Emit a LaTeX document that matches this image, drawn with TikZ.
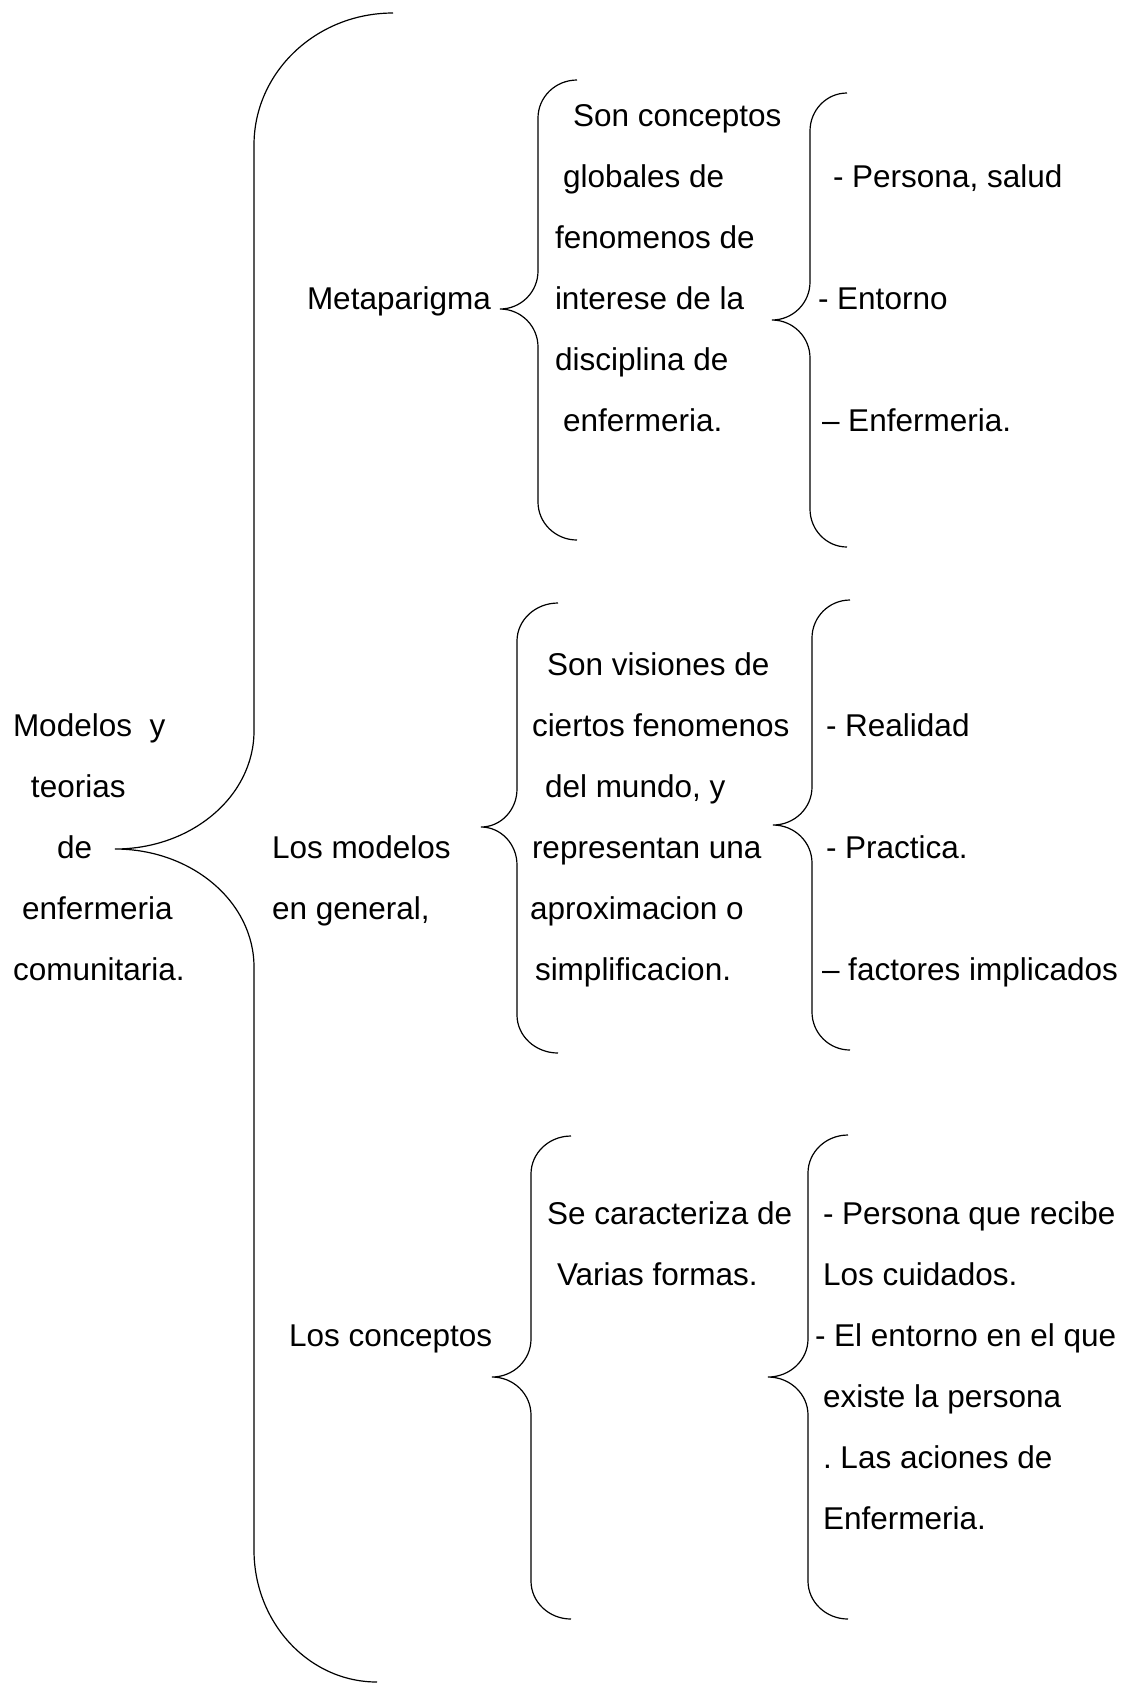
\documentclass[tikz,border=0pt]{standalone}
\usepackage{fontspec}
\setmainfont{Liberation Sans}
\frenchspacing
\newcommand\mybrace[9]{%
  \draw[bracestyle] (#4,#5) .. controls ({#4-0.552*(#4-#1)},#5) and (#1,{#5+#8*(1-0.552)}) .. (#1,{#5+#8})
  -- (#1,{#3-#9}) .. controls (#1,{#3-#9+0.552*#9}) and ({#2+0.552*(#1-#2)},#3) .. (#2,#3)
  .. controls ({#2+0.552*(#1-#2)},#3) and (#1,{#3+#9-0.552*#9}) .. (#1,{#3+#9})
  -- (#1,{#7-#8}) .. controls (#1,{#7-#8+0.552*#8}) and ({#6-0.552*(#6-#1)},#7) .. (#6,#7);}
\begin{document}
\begin{tikzpicture}[x=0.5pt,y=-0.5pt,
  txt/.style={anchor=base west,inner sep=0pt,outer sep=0pt,font=\fontsize{15.75pt}{18pt}\selectfont\frenchspacing},
  bracestyle/.style={line width=0.6pt,black}]
\useasboundingbox (0,0) rectangle (1125,1683);
% braces
\mybrace{254}{115}{849}{393}{13}{377}{1682}{132}{118}
\mybrace{538}{500}{309}{577}{80}{577}{540}{38}{38}
\mybrace{810}{772}{320}{847}{93}{847}{547}{38}{38}
\mybrace{517}{481}{827}{558}{603}{558}{1053}{38}{38}
\mybrace{812}{773}{825}{850}{600}{850}{1050}{38}{38}
\mybrace{531}{492}{1377}{571}{1136}{571}{1619}{38}{38}
\mybrace{808}{768}{1377}{848}{1135}{848}{1619}{38}{38}
% left column
\node[txt] (l1) at (13,736) {Modelos\ \ y};
\node[txt] (l2) at (31,797) {teorias};
\node[txt] (l3) at (57,858) {de};
\node[txt] (l4) at (22,919) {enfermeria};
\node[txt] (l5) at (13,980) {comunitaria.};
% second column
\node[txt] (m1) at (307,309) {Metaparigma};
\node[txt] (m2a) at (272,858) {Los modelos};
\node[txt] (m2b) at (272,919) {en general,};
\node[txt] (m3) at (289,1346) {Los conceptos};
% block 1 middle
\node[txt] (a1) at (573,126) {Son conceptos};
\node[txt] (a2) at (563,187) {globales de};
\node[txt] (a3) at (555,248) {fenomenos de};
\node[txt] (a4) at (555,309) {interese de la};
\node[txt] (a5) at (555,370) {disciplina de};
\node[txt] (a6) at (563,431) {enfermeria.};
% block 1 right
\node[txt] (r1) at (833,187) {- Persona, salud};
\node[txt] (r2) at (818,309) {- Entorno};
\node[txt] (r3) at (822,431) {– Enfermeria.};
% block 2 middle
\node[txt] (b1) at (547,675) {Son visiones de};
\node[txt] (b2) at (532,736) {ciertos fenomenos};
\node[txt] (b3) at (545,797) {del mundo, y};
\node[txt] (b4) at (532,858) {representan una};
\node[txt] (b5) at (530,919) {aproximacion o};
\node[txt] (b6) at (535,980) {simplificacion.};
% block 2 right
\node[txt] (s1) at (826,736) {- Realidad};
\node[txt] (s2) at (826,858) {- Practica.};
\node[txt] (s3) at (822,980) {– factores implicados};
% block 3 middle
\node[txt] (c1) at (547,1224) {Se caracteriza de};
\node[txt] (c2) at (557,1285) {Varias formas.};
% block 3 right
\node[txt] (t1) at (823,1224) {- Persona que recibe};
\node[txt] (t2) at (823,1285) {Los cuidados.};
\node[txt] (t3) at (815,1346) {- El entorno en el que};
\node[txt] (t4) at (823,1407) {existe la persona};
\node[txt] (t5) at (823,1468) {. Las aciones de};
\node[txt] (t6) at (823,1529) {Enfermeria.};
\end{tikzpicture}
\end{document}
